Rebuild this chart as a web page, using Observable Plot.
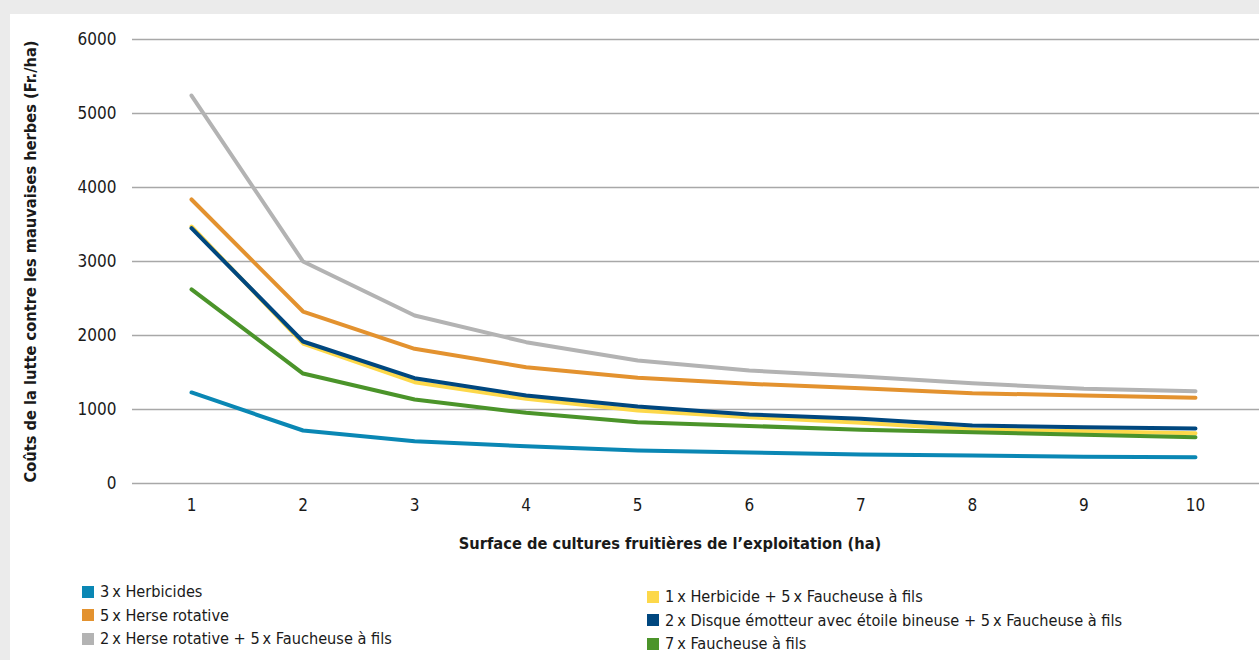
<!DOCTYPE html>
<html><head><meta charset="utf-8">
<script src="https://cdn.jsdelivr.net/npm/d3@7"></script>
<script src="https://cdn.jsdelivr.net/npm/@observablehq/plot@0.6"></script>
<style>
body{margin:0;background:#ebebeb;width:1259px;height:660px;overflow:hidden;font-family:"DejaVu Sans Condensed",sans-serif;}
#panel{position:absolute;left:10px;top:14px;width:1249px;height:646px;background:#fff;}
#chart{position:absolute;left:0;top:0;}
.leg{position:absolute;font-size:16.2px;color:#1a1a1a;}
.item{display:flex;align-items:center;height:23.5px;white-space:nowrap;}
.sw{width:12px;height:12px;margin-right:6px;flex:none;}
g[aria-label="y-axis label"] text{font-weight:bold;font-size:16.3px;}
</style></head>
<body>
<div id="panel">
  <div id="chart"></div>
  <div class="leg" id="leg1" style="left:72px;top:566px;"></div>
  <div class="leg" id="leg2" style="left:637px;top:571px;"></div>
</div>
<script>
const sizes = [1, 2, 3, 4, 5, 6, 7, 8, 9, 10];
const yTicks = [0, 1000, 2000, 3000, 4000, 5000, 6000];
const seriesNames = [
  "3\u2009x Herbicides",
  "5\u2009x Herse rotative",
  "2\u2009x Herse rotative + 5\u2009x Faucheuse à fils",
  "1\u2009x Herbicide + 5\u2009x Faucheuse à fils",
  "2\u2009x Disque émotteur avec étoile bineuse + 5\u2009x Faucheuse à fils",
  "7\u2009x Faucheuse à fils"
];
const seriesColors = ["#0a87b4", "#e3922f", "#b3b3b3", "#fdd84a", "#00477f", "#4b942a"];
const herbicides3 = [1230, 716, 572, 504, 446, 419, 392, 378, 360, 356];
const herse5 = [3838, 2324, 1820, 1572, 1428, 1347, 1288, 1220, 1189, 1158];
const herse2Faucheuse5 = [5243, 3000, 2270, 1910, 1662, 1527, 1446, 1356, 1279, 1248];
const herbicide1Faucheuse5 = [3473, 1892, 1369, 1144, 986, 896, 820, 730, 707, 680];
const disque2Faucheuse5 = [3450, 1919, 1423, 1189, 1040, 932, 874, 784, 761, 743];
const faucheuse7 = [2622, 1486, 1135, 955, 828, 778, 725, 694, 658, 626];
const xLabel = "Surface de cultures fruitières de l’exploitation (ha)";
const yLabel = "Coûts de la lutte contre les mauvaises herbes (Fr./ha)";

const seriesValues = [herbicides3, herse5, herse2Faucheuse5, herbicide1Faucheuse5, disque2Faucheuse5, faucheuse7];
const data = [];
seriesNames.forEach((name, i) => {
  sizes.forEach((s, j) => data.push({series: name, x: s, y: seriesValues[i][j]}));
});

const font = '"DejaVu Sans Condensed",sans-serif';
const chart = Plot.plot({
  width: 1249,
  height: 545,
  marginLeft: 122,
  marginRight: 0,
  marginTop: 25,
  marginBottom: 76,
  style: {fontSize: "17px", fontFamily: font, color: "#1a1a1a", background: "transparent"},
  x: {domain: [0.471, 10.574]},
  y: {domain: [0, 6000]},
  color: {domain: seriesNames, range: seriesColors},
  marks: [
    Plot.gridY(yTicks, {stroke: "#a8a8a8", strokeOpacity: 1, strokeWidth: 1.5}),
    Plot.axisY({ticks: yTicks, tickSize: 0, tickPadding: 16, tickFormat: d => String(d),
      label: yLabel, labelAnchor: "center", labelArrow: "none", labelOffset: 108}),
    Plot.axisX({ticks: sizes, tickSize: 0, tickPadding: 15, tickFormat: d => String(d), label: null}),
    Plot.text([xLabel], {text: d => d, frameAnchor: "bottom", dy: 65, dx: -26,
      fontWeight: "bold", fontSize: 16.3, fill: "#1a1a1a"}),
    Plot.line(data, {x: "x", y: "y", z: "series", stroke: "series", strokeWidth: 4,
      strokeLinejoin: "round", strokeLinecap: "round"})
  ]
});
document.getElementById("chart").appendChild(chart);

function legend(el, idx) {
  idx.forEach(i => {
    const d = document.createElement("div");
    d.className = "item";
    d.innerHTML = `<span class="sw" style="background:${seriesColors[i]}"></span><span>${seriesNames[i]}</span>`;
    el.appendChild(d);
  });
}
legend(document.getElementById("leg1"), [0, 1, 2]);
legend(document.getElementById("leg2"), [3, 4, 5]);
</script>
</body></html>
